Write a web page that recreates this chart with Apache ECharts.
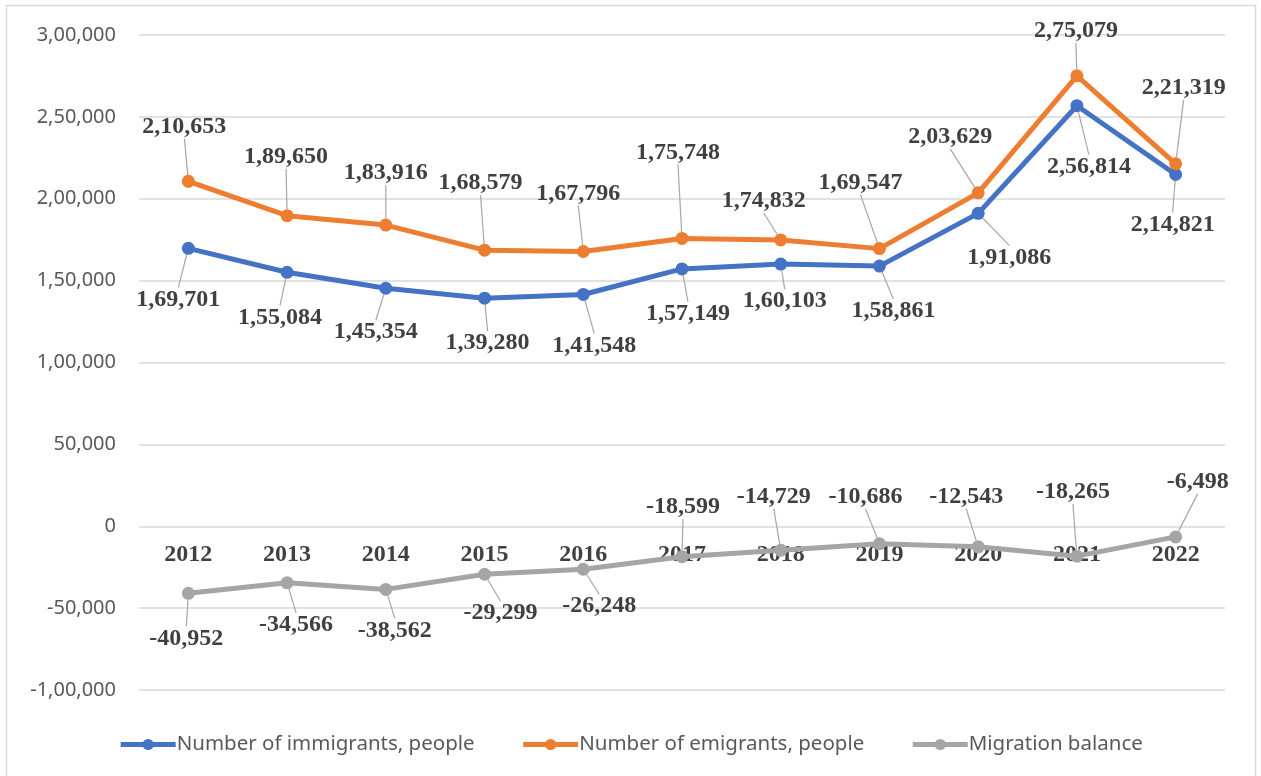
<!DOCTYPE html>
<html>
<head>
<meta charset="utf-8">
<script src="https://cdn.jsdelivr.net/npm/echarts@6/dist/echarts.min.js"></script>
<style>html,body{margin:0;padding:0;background:#fff;}#c{width:1261px;height:776px;}</style>
</head>
<body>
<div id="c"></div>
<script>
const years = ['2012','2013','2014','2015','2016','2017','2018','2019','2020','2021','2022'];
const immigrants = [169701,155084,145354,139280,141548,157149,160103,158861,191086,256814,214821];
const emigrants = [210653,189650,183916,168579,167796,175748,174832,169547,203629,275079,221319];
const balance = [-40952,-34566,-38562,-29299,-26248,-18599,-14729,-10686,-12543,-18265,-6498];
const seriesNames = ['Number of immigrants, people','Number of emigrants, people','Migration balance'];

// label offsets (label centre relative to the point), in px
const immOff = [[-10,51],[-7,45],[-10,44],[3,45],[11,51],[6,45],[4,37],[14,45],[31,44],[12,61],[-3,50]];
const emiOff = [[-4,-55],[-1,-59],[0,-52],[-4,-67],[-5,-58],[-4,-86],[-17,-39],[-19,-66],[-28,-56],[-1,-45],[8,-76]];
const balOff = [[-2,45],[9,42],[9,41],[16,39],[16,37],[1,-50],[-7,-54],[-14,-47],[-12,-50],[-4,-64],[22,-55]];

function fmtIN(v){
  const neg = v < 0;
  let s = String(Math.abs(Math.round(v)));
  let out;
  if (s.length <= 3) out = s;
  else {
    const last3 = s.slice(-3);
    let rest = s.slice(0, -3);
    rest = rest.replace(/\B(?=(\d{2})+(?!\d))/g, ',');
    out = rest + ',' + last3;
  }
  return (neg ? '-' : '') + out;
}

const chart = echarts.init(document.getElementById('c'), null, {renderer:'canvas'});
const labelFont = {fontFamily:'"Liberation Serif", serif', fontWeight:'bold', fontSize:24, color:'#404040'};
const colors = ['#4472C4','#ED7D31','#A5A5A5'];

function mkSeries(name, data, color, offs){
  return {
    name: name, type:'line', data: data,
    symbol:'circle', symbolSize:13,
    lineStyle:{color:color, width:5},
    itemStyle:{color:color},
    label:Object.assign({show:true, position:'inside', formatter:p=>fmtIN(p.value)}, labelFont),
    labelLine:{show:true, lineStyle:{color:'#a6a6a6', width:1.2}},
    labelLayout:function(p){ const o = offs[p.dataIndex]; return {dx:o[0], dy:o[1]}; },
    emphasis:{disabled:true},
    z:3
  };
}

chart.setOption({
  animation:false,
  backgroundColor:'#fff',
  graphic:[{type:'rect', shape:{x:6.5, y:5.5, width:1249, height:800}, style:{fill:'none', stroke:'#d9d9d9', lineWidth:1.5}, silent:true}],
  grid:{left:139, right:36, top:35, bottom:86},
  legend:{
    data:seriesNames.map((n,i)=>({name:n, lineStyle:{color:colors[i], width:5}, itemStyle:{color:colors[i]}})),
    top:729, left:'center', itemWidth:55, itemHeight:14, itemGap:46,
    textStyle:{fontFamily:'"Noto Sans", sans-serif', fontSize:20.5, color:'#595959', padding:[0,0,0,-4]}
  },
  xAxis:{
    type:'category', data:years, boundaryGap:true,
    offset:-164,
    axisLine:{show:false, onZero:false},
    axisTick:{show:false},
    axisLabel:Object.assign({margin:17}, labelFont)
  },
  yAxis:{
    type:'value', min:-100000, max:300000, interval:50000,
    axisLine:{show:false}, axisTick:{show:false},
    splitLine:{lineStyle:{color:'#d9d9d9', width:1.5}},
    axisLabel:{margin:23, formatter:fmtIN, fontFamily:'"Noto Sans", sans-serif', fontSize:20, color:'#595959'}
  },
  series:[
    mkSeries(seriesNames[0], immigrants, colors[0], immOff),
    mkSeries(seriesNames[1], emigrants, colors[1], emiOff),
    mkSeries(seriesNames[2], balance, colors[2], balOff)
  ]
});
</script>
</body>
</html>
